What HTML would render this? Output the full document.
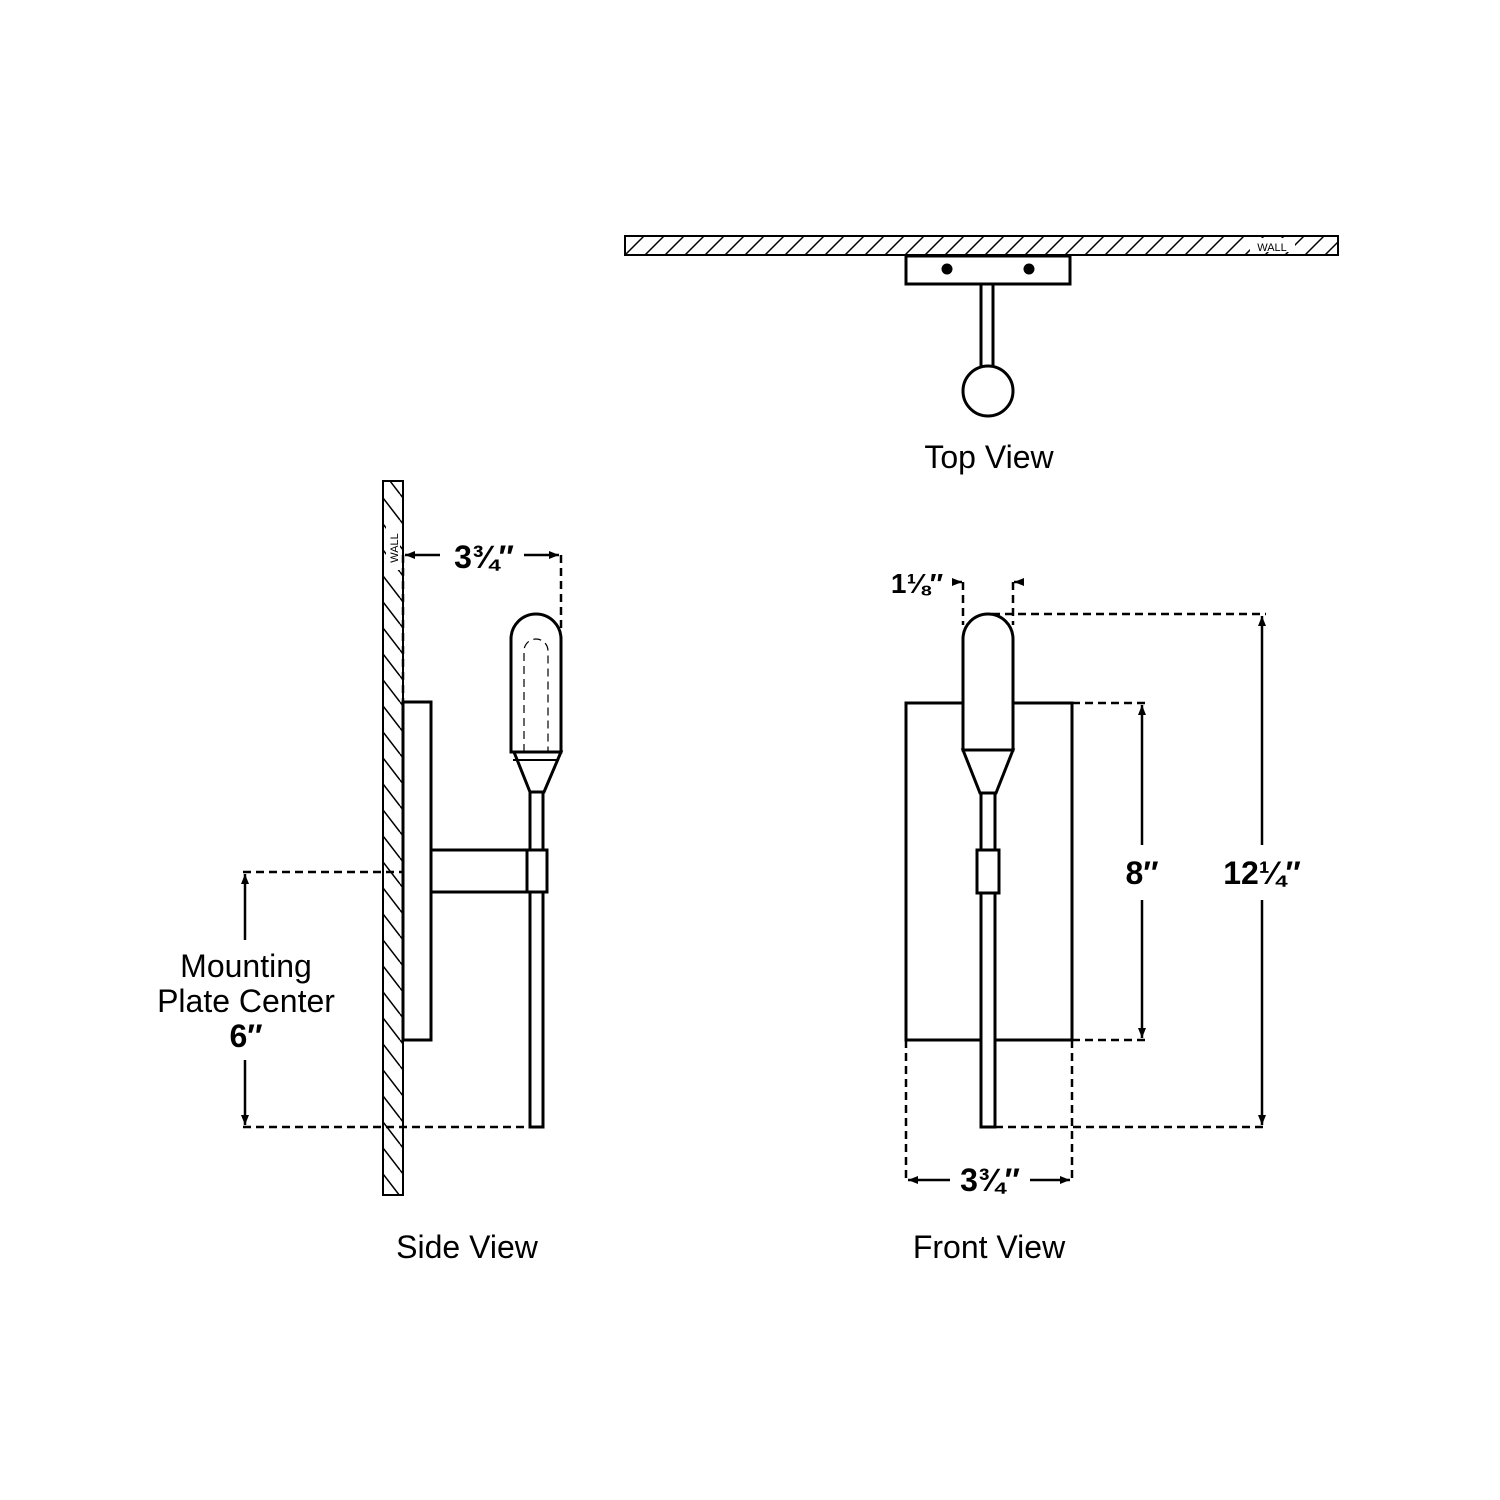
<!DOCTYPE html><html><head><style>body{margin:0;background:#fff}svg{display:block}text{font-family:"Liberation Sans",sans-serif;fill:#000}</style></head><body>
<svg width="1500" height="1500" viewBox="0 0 1500 1500" xmlns="http://www.w3.org/2000/svg">
<defs>
<pattern id="h" patternUnits="userSpaceOnUse" width="20" height="20"><path d="M-5 25L25 -5M-5 5L5 -5M15 25L25 15" stroke="#000" stroke-width="1.5"/></pattern>
<pattern id="hv" patternUnits="userSpaceOnUse" width="20" height="26"><path d="M0 0L20 26M-20 0L0 26M20 0L40 26" stroke="#000" stroke-width="1.5"/></pattern>
<marker id="a" markerWidth="10" markerHeight="8" refX="10" refY="4" orient="auto" markerUnits="userSpaceOnUse"><path d="M0 0L10 4L0 8z" fill="#000"/></marker>
</defs>
<g stroke="#000" stroke-width="3" fill="none">
<!-- top view -->
<rect x="625" y="236" width="713" height="19" fill="url(#h)" stroke-width="2"/>
<rect x="1250" y="238" width="45" height="14" fill="#fff" stroke="none"/>
<rect x="906" y="256" width="164" height="28" fill="#fff"/>
<circle cx="947" cy="269" r="5" fill="#000" stroke-width="1"/>
<circle cx="1029" cy="269" r="5" fill="#000" stroke-width="1"/>
<rect x="981" y="284" width="12" height="84" fill="#fff"/>
<circle cx="988" cy="391" r="25" fill="#fff"/>
<!-- side view -->
<rect x="383" y="481" width="20" height="714" fill="url(#hv)" stroke-width="2"/>
<rect x="386" y="525" width="14" height="45" fill="#fff" stroke="none"/>
<rect x="403" y="702" width="28" height="338" fill="#fff"/>
<rect x="431" y="850" width="96" height="42" fill="#fff"/>
<rect x="530" y="792" width="13" height="335" fill="#fff"/>
<rect x="527" y="850" width="20" height="42" fill="#fff"/>
<path d="M511 752V639A25 25 0 0 1 561 639V752Z" fill="#fff"/>
<path d="M514 752L561 752L544 792L530 792Z" fill="#fff"/>
<path d="M524 752V651A12 12 0 0 1 548 651V752" stroke-width="1.2" stroke-dasharray="8 5"/>
<line x1="513" y1="760" x2="559" y2="760" stroke-width="2"/>
<!-- side dims -->
<line x1="403" y1="555" x2="403" y2="702" stroke-dasharray="8 5" stroke-width="2.5"/>
<line x1="561" y1="555" x2="561" y2="628" stroke-dasharray="8 5" stroke-width="2.5"/>
<line x1="440" y1="555" x2="405" y2="555" marker-end="url(#a)" stroke-width="2.5"/>
<line x1="524" y1="555" x2="559" y2="555" marker-end="url(#a)" stroke-width="2.5"/>
<line x1="243" y1="872" x2="403" y2="872" stroke-dasharray="8 5" stroke-width="2.5"/>
<line x1="243" y1="1127" x2="530" y2="1127" stroke-dasharray="8 5" stroke-width="2.5"/>
<line x1="245" y1="940" x2="245" y2="874" marker-end="url(#a)" stroke-width="2.5"/>
<line x1="245" y1="1060" x2="245" y2="1125" marker-end="url(#a)" stroke-width="2.5"/>
<!-- front view -->
<rect x="906" y="703" width="166" height="337" fill="#fff"/>
<rect x="981" y="793" width="14" height="334" fill="#fff"/>
<rect x="977" y="850" width="22" height="43" fill="#fff"/>
<path d="M963 750V639A25 25 0 0 1 1013 639V750Z" fill="#fff"/>
<path d="M963 750L1013 750L996 793L980 793Z" fill="#fff"/>
<!-- front dims -->
<line x1="963" y1="582" x2="963" y2="625" stroke-dasharray="8 5" stroke-width="2.5"/>
<line x1="1013" y1="582" x2="1013" y2="625" stroke-dasharray="8 5" stroke-width="2.5"/>
<line x1="955" y1="582" x2="962" y2="582" marker-end="url(#a)" stroke-width="2.5"/>
<line x1="1022" y1="582" x2="1014" y2="582" marker-end="url(#a)" stroke-width="2.5"/>
<line x1="992" y1="614" x2="1266" y2="614" stroke-dasharray="8 5" stroke-width="2.5"/>
<line x1="995" y1="1127" x2="1266" y2="1127" stroke-dasharray="8 5" stroke-width="2.5"/>
<line x1="1262" y1="845" x2="1262" y2="616" marker-end="url(#a)" stroke-width="2.5"/>
<line x1="1262" y1="900" x2="1262" y2="1125" marker-end="url(#a)" stroke-width="2.5"/>
<line x1="1072" y1="703" x2="1146" y2="703" stroke-dasharray="8 5" stroke-width="2.5"/>
<line x1="1072" y1="1040" x2="1146" y2="1040" stroke-dasharray="8 5" stroke-width="2.5"/>
<line x1="1142" y1="845" x2="1142" y2="705" marker-end="url(#a)" stroke-width="2.5"/>
<line x1="1142" y1="900" x2="1142" y2="1038" marker-end="url(#a)" stroke-width="2.5"/>
<line x1="906" y1="1040" x2="906" y2="1183" stroke-dasharray="8 5" stroke-width="2.5"/>
<line x1="1072" y1="1040" x2="1072" y2="1183" stroke-dasharray="8 5" stroke-width="2.5"/>
<line x1="950" y1="1180" x2="908" y2="1180" marker-end="url(#a)" stroke-width="2.5"/>
<line x1="1030" y1="1180" x2="1070" y2="1180" marker-end="url(#a)" stroke-width="2.5"/>
</g>
<text x="1272" y="251" font-size="11" text-anchor="middle">WALL</text>
<text transform="translate(398,548) rotate(-90)" font-size="11" text-anchor="middle">WALL</text>
<g font-size="32" text-anchor="middle">
<text x="989" y="468">Top View</text>
<text x="467" y="1258">Side View</text>
<text x="989" y="1258">Front View</text>
<text x="246" y="977">Mounting</text>
<text x="246" y="1012">Plate Center</text>
</g>
<g font-size="32" font-weight="bold" text-anchor="middle">
<text x="246" y="1047">6″</text>
<text x="484" y="568">3¾″</text>
<text x="990" y="1191">3¾″</text>
<text x="1142" y="884">8″</text>
<text x="1262" y="884">12¼″</text>
<text x="917" y="593" font-size="28">1⅛″</text>
</g>
</svg></body></html>
